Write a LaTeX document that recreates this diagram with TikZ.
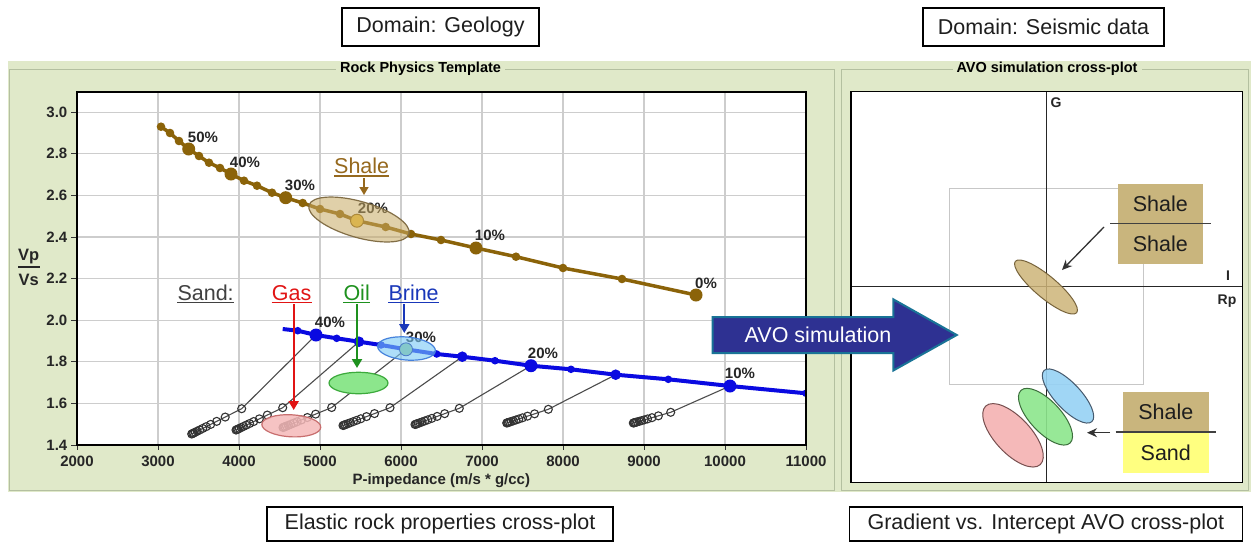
\documentclass[tikz,border=0pt]{standalone}
\usepackage{fontspec}
\setmainfont{Liberation Sans}
\usetikzlibrary{arrows.meta,calc}
\newcommand{\myfs}[1]{\fontsize{#1pt}{#1pt}\selectfont}
\definecolor{panelbg}{RGB}{224,233,201}
\definecolor{panelline}{RGB}{180,192,160}
\definecolor{gridc}{RGB}{205,205,205}
\definecolor{shalec}{RGB}{139,99,9}
\definecolor{shaletxt}{RGB}{150,105,30}
\definecolor{brinec}{RGB}{10,10,225}
\definecolor{brinetxt}{RGB}{25,55,185}
\definecolor{gasc}{RGB}{225,20,20}
\definecolor{oilc}{RGB}{30,145,30}
\definecolor{sandtxt}{RGB}{65,65,65}
\definecolor{avofill}{RGB}{46,49,146}
\definecolor{avoedge}{RGB}{25,115,150}
\definecolor{tanbox}{RGB}{201,181,125}
\definecolor{sandbox}{RGB}{255,255,128}
\definecolor{tanell}{RGB}{205,180,120}
\definecolor{blueell}{RGB}{150,210,245}
\definecolor{greenell}{RGB}{140,230,140}
\definecolor{pinkell}{RGB}{245,185,185}
\definecolor{darktxt}{RGB}{30,30,30}
\newcommand{\fluidline}[3]{%
  \draw[subline] (#1) -- (#2) -- (#3);
  \foreach \t in {0,0.33,0.5,0.62,0.71,0.78,0.84,0.89,0.93,0.96,0.98,1}{
    \draw[subcirc] ($(#2)!\t!(#3)$) circle (4pt);
  }%
}
\begin{document}
\begin{tikzpicture}[x=1pt,y=-1pt,
  domainbox/.style={draw=black, line width=1.5pt, font=\myfs{21.5}, inner sep=0pt, text=darktxt},
  ptitle/.style={fill=panelbg, font=\myfs{14.5}\bfseries, inner xsep=4pt, inner ysep=1pt},
  ticklbl/.style={font=\myfs{15}\bfseries, inner sep=0pt, text=black!85},
  pct/.style={font=\myfs{15}\bfseries, inner sep=0pt, text=black!85},
  bigtxt/.style={font=\myfs{21.5}, inner sep=0pt},
  plotframe/.style={draw=black, line width=1.5pt},
  gridline/.style={draw=gridc, line width=1.1pt},
  shaleline/.style={draw=shalec, line width=3.5pt, line join=round},
  brineline/.style={draw=brinec, line width=4pt, line join=round},
  subline/.style={draw=black!70, line width=1.1pt},
  subcirc/.style={draw=black!80, line width=1.1pt},
  tagbox/.style={font=\myfs{21.5}, text=darktxt, inner sep=0pt},
]
\useasboundingbox (0,0) rectangle (1251,542);
\fill[white] (0,0) rectangle (1251,542);

% top / bottom caption boxes
\node[domainbox, minimum width=197pt, minimum height=38pt] (geo) at (440.5,27) {Domain: Geology};
\node[domainbox, minimum width=241pt, minimum height=38pt] (seis) at (1043.5,27) {Domain: Seismic data};
\node[domainbox, minimum width=346pt, minimum height=34pt] (elastic) at (440,524) {Elastic rock properties cross-plot};
\node[domainbox, minimum width=393pt, minimum height=34pt] (gradient) at (1045.8,524) {Gradient vs. Intercept AVO cross-plot};

% panels
\fill[panelbg] (8,61) rectangle (1251,492);
\draw[panelline, line width=1pt] (9.5,69.5) rectangle (834.5,490.5);
\draw[panelline, line width=1pt] (841.5,69.5) rectangle (1248.5,490.5);
\node[ptitle] (rpt) at (420.5,69) {Rock Physics Template};
\node[ptitle] (avot) at (1047,69) {AVO simulation cross-plot};

% ---------------- left plot ----------------
\fill[white] (77,92) rectangle (806,445);
\foreach \i in {1,...,8}{
  \draw[gridline] ({77+81*\i},92) -- ({77+81*\i},445);
  \draw[gridline] (77,{445-41.6*\i}) -- (806,{445-41.6*\i});
}
\foreach \v [count=\i from 0] in {2000,3000,4000,5000,6000,7000,8000,9000,10000,11000}{
  \draw[black!80, line width=1pt] ({77+81*\i},445) -- ({77+81*\i},450);
  \node[ticklbl, anchor=base] (xt\i) at ({77+81*\i},466.7) {\v};
}
\foreach \v [count=\i from 0] in {1.4,1.6,1.8,2.0,2.2,2.4,2.6,2.8,3.0}{
  \draw[black!80, line width=1pt] (71,{445-41.6*\i}) -- (77,{445-41.6*\i});
  \node[ticklbl, anchor=east] (yt\i) at (67.5,{445-41.6*\i}) {\v};
}
\node[font=\myfs{15}\bfseries, anchor=base, inner sep=0pt, text=black!85] (xlab) at (441.3,484) {P-impedance (m/s * g/cc)};
\node[font=\myfs{16.5}\bfseries, inner sep=0pt, text=black!85] (vp) at (28.7,257) {Vp};
\node[font=\myfs{16.5}\bfseries, inner sep=0pt, text=black!85] (vs) at (28.7,280) {Vs};
\draw[black!85, line width=1.6pt] (18,267) -- (39.5,267);

\begin{scope}
\clip (77,92) rectangle (806,445);
% brine anchor points
\coordinate (B40) at (316,335);
\coordinate (B35) at (359,341.7);
\coordinate (B30) at (406,349.3);
\coordinate (B25) at (462.3,356.7);
\coordinate (B20) at (531,365.7);
\coordinate (B15) at (615.7,374.7);
\coordinate (B10) at (730,386);
% fluid substitution lines
\coordinate (K1) at (241.7,408.7); \coordinate (E1) at (191.7,434);
\coordinate (K2) at (282.7,407.7); \coordinate (E2) at (236,430);
\coordinate (K3) at (331.7,407.5); \coordinate (E3) at (283,427.5);
\coordinate (K4) at (390,407.7);   \coordinate (E4) at (343,425.5);
\coordinate (K5) at (459.3,408.3); \coordinate (E5) at (415,424.5);
\coordinate (K6) at (548.3,409.3); \coordinate (E6) at (506.7,423);
\coordinate (K7) at (670.7,412.3); \coordinate (E7) at (633.3,423);
\fluidline{B40}{K1}{E1}
\fluidline{B35}{K2}{E2}
\fluidline{B30}{K3}{E3}
\fluidline{B25}{K4}{E4}
\fluidline{B20}{K5}{E5}
\fluidline{B15}{K6}{E6}
\fluidline{B10}{K7}{E7}

% shale trend
\draw[shaleline] plot coordinates {(161,126.7) (170,133) (179,141) (188.7,149) (199,156) (209,162.7) (220,168) (231,174) (244,180.7) (257,185.7) (272,192.7) (285.7,197.7) (302.7,203) (320,209) (340,214) (357,220.7) (385.7,227) (411,234) (441,240) (476,248) (516,256.7) (563,268) (622,279) (696,295)};
\foreach \p in {(161,126.7),(170,133),(179,141),(199,156),(209,162.7),(220,168),(244,180.7),(257,185.7),(272,192.7),(302.7,203),(320,209),(340,214),(385.7,227),(411,234),(441,240),(516,256.7),(563,268),(622,279)}
  \fill[shalec] \p circle (4.3pt);
\foreach \p in {(188.7,149),(231,174),(285.7,197.7),(476,248),(696,295)}
  \fill[shalec] \p circle (6.5pt);
\filldraw[fill={rgb,255:red,240;green,195;blue,60}, draw=shalec, line width=1pt] (357,220.7) circle (6.5pt);

% brine trend
\draw[brineline] plot coordinates {(282.7,329) (297.7,330.7) (316,335) (336.7,338.3) (359,341.7) (381,345) (406,349.3) (436.7,354) (462.3,356.7) (495,360.7) (531,365.7) (571,369.3) (615.7,374.7) (668.3,379.3) (730,386) (806,393.3)};
\foreach \p in {(297.7,330.7),(336.7,338.3),(381,345),(436.7,354),(495,360.7),(571,369.3),(668.3,379.3),(806,393.3)}
  \fill[brinec] \p circle (3.8pt);
\foreach \p in {(359,341.7),(462.3,356.7),(615.7,374.7)}
  \fill[brinec] \p circle (5.3pt);
\foreach \p in {(316,335),(531,365.7),(730,386)}
  \fill[brinec] \p circle (6.5pt);
\filldraw[fill={rgb,255:red,150;green,200;blue,140}, draw=brinec!60!black, line width=0.8pt] (406,349.3) circle (6.5pt);
\end{scope}

% percent labels
\node[pct] (s50) at (203,137) {50\%};
\node[pct] (s40) at (245,162) {40\%};
\node[pct] (s30) at (300,185) {30\%};
\node[pct] (s20) at (373,208) {20\%};
\node[pct] (s10) at (490,235) {10\%};
\node[pct] (s0) at (706,283) {0\%};
\node[pct] (b40) at (330,322) {40\%};
\node[pct] (b30) at (421,337) {30\%};
\node[pct] (b20) at (543,353) {20\%};
\node[pct] (b10) at (740,373) {10\%};

% ellipses in rock physics template
\draw[fill={rgb,255:red,200;green,170;blue,100}, fill opacity=0.55, draw={rgb,255:red,130;green,110;blue,70}, line width=1.2pt, rotate around={-16:(359,219.5)}] (359,219.5) ellipse [x radius=52pt, y radius=18pt];
\draw[fill={rgb,255:red,120;green,200;blue,245}, fill opacity=0.6, draw={rgb,255:red,70;green,130;blue,220}, line width=1.2pt, rotate around={-5:(406.5,348.5)}] (406.5,348.5) ellipse [x radius=29pt, y radius=11.5pt];
\draw[fill=greenell, draw={rgb,255:red,60;green,170;blue,60}, line width=1.2pt] (358.5,383) ellipse [x radius=29.5pt, y radius=10.7pt];
\draw[fill=pinkell, fill opacity=0.85, draw={rgb,255:red,200;green,110;blue,110}, line width=1.2pt, rotate around={-3:(291.3,425.8)}] (291.3,425.8) ellipse [x radius=29.5pt, y radius=11pt];

% fluid labels and arrows
\node[bigtxt, text=shaletxt, anchor=base west] (shalelbl) at (334,173.3) {Shale};
\draw[shaletxt, line width=1.5pt] ([yshift=-2.7pt]shalelbl.base west) -- ([yshift=-2.7pt]shalelbl.base east);
\coordinate (shaletip) at (364,195);
\draw[shaletxt, line width=1.5pt, -{Triangle[width=9pt,length=8pt]}] (364,178) -- (shaletip);

\node[bigtxt, text=sandtxt, anchor=base west] (sandlbl) at (177.3,300) {Sand:};
\draw[sandtxt, line width=1.5pt] ([yshift=-2.7pt]sandlbl.base west) -- ([yshift=-2.7pt]sandlbl.base east);
\node[bigtxt, text=gasc, anchor=base west] (gaslbl) at (271.7,300) {Gas};
\draw[gasc, line width=1.5pt] ([yshift=-2.7pt]gaslbl.base west) -- ([yshift=-2.7pt]gaslbl.base east);
\node[bigtxt, text=oilc, anchor=base west] (oillbl) at (343.3,300) {Oil};
\draw[oilc, line width=1.5pt] ([yshift=-2.7pt]oillbl.base west) -- ([yshift=-2.7pt]oillbl.base east);
\node[bigtxt, text=brinetxt, anchor=base west] (brinelbl) at (388.3,300) {Brine};
\draw[brinetxt, line width=1.5pt] ([yshift=-2.7pt]brinelbl.base west) -- ([yshift=-2.7pt]brinelbl.base east);

\coordinate (gastip) at (293.7,410);
\coordinate (oiltip) at (357,368);
\coordinate (brinetip) at (404.3,333);
\draw[gasc, line width=2pt, -{Triangle[width=10pt,length=9pt]}] (293.7,304) -- (gastip);
\draw[oilc, line width=2pt, -{Triangle[width=10pt,length=9pt]}] (357,304) -- (oiltip);
\draw[brinetxt, line width=2pt, -{Triangle[width=10pt,length=9pt]}] (404.3,304) -- (brinetip);

\draw[plotframe] (77,92) rectangle (806,445);

% ---------------- right plot ----------------
\fill[white] (851,91.7) rectangle (1242.7,482.3);
\draw[black!22, line width=1pt] (949,188) rectangle (1143,384);
\draw[black!85, line width=1pt] (1046.7,91.7) -- (1046.7,482.3);
\draw[black!85, line width=1pt] (851,286.7) -- (1242.7,286.7);
\node[font=\myfs{14}\bfseries, inner sep=0pt, text=black!85] (glbl) at (1056,103) {G};
\node[font=\myfs{14}\bfseries, inner sep=0pt, text=black!85] (ilbl) at (1228,276) {I};
\node[font=\myfs{14}\bfseries, inner sep=0pt, text=black!85] (rplbl) at (1227,301) {Rp};

\draw[fill=tanell, fill opacity=0.85, draw={rgb,255:red,120;green,100;blue,60}, line width=1pt, rotate around={-40:(1046,287)}] (1046,287) ellipse [x radius=40pt, y radius=11pt];
\draw[fill=pinkell, draw={rgb,255:red,120;green,80;blue,80}, line width=1pt, rotate around={-47:(1013,435.3)}] (1013,435.3) ellipse [x radius=40pt, y radius=18pt];
\draw[fill=greenell, fill opacity=0.9, draw={rgb,255:red,60;green,110;blue,60}, line width=1pt, rotate around={-47:(1045.5,416.7)}] (1045.5,416.7) ellipse [x radius=36pt, y radius=15.5pt];
\draw[fill=blueell, fill opacity=0.9, draw={rgb,255:red,70;green,90;blue,110}, line width=1pt, rotate around={-47:(1068,396)}] (1068,396) ellipse [x radius=35pt, y radius=13pt];

\node[tagbox, fill=tanbox, minimum width=85pt, minimum height=39pt] (ss1) at (1160.3,203.5) {Shale};
\node[tagbox, fill=tanbox, minimum width=85pt, minimum height=41pt] (ss2) at (1160.3,243.5) {Shale};
\draw[black!75, line width=1.5pt] (1110,223.7) -- (1211,223.7);
\coordinate (ssfrom) at (1104,227);
\coordinate (ssto) at (1062,270);
\draw[black!80, line width=1.3pt, -{Stealth[width=9pt,length=10pt]}] (ssfrom) -- (ssto);

\node[tagbox, fill=tanbox, minimum width=86.3pt, minimum height=40pt] (sd1) at (1165.8,411.7) {Shale};
\node[tagbox, fill=sandbox, minimum width=86.3pt, minimum height=41.6pt] (sd2) at (1165.8,452.5) {Sand};
\draw[black!75, line width=1.5pt] (1115.7,432) -- (1216,432);
\coordinate (sdfrom) at (1110,432.7);
\coordinate (sdto) at (1087,432.7);
\draw[black!80, line width=1.3pt, -{Stealth[width=9pt,length=10pt]}] (sdfrom) -- (sdto);

\draw[plotframe] (851,91.7) rectangle (1242.7,482.3);

% ---------------- AVO simulation arrow ----------------
\filldraw[fill=avofill, draw=avoedge, line width=2pt, line join=miter]
  (712.7,317) -- (893.3,317) -- (893.3,299.3) -- (956.7,335) -- (893.3,370.5) -- (893.3,353) -- (712.7,353) -- cycle;
\node[bigtxt, text=white] (avosim) at (818,335) {AVO simulation};
\end{tikzpicture}
\end{document}
